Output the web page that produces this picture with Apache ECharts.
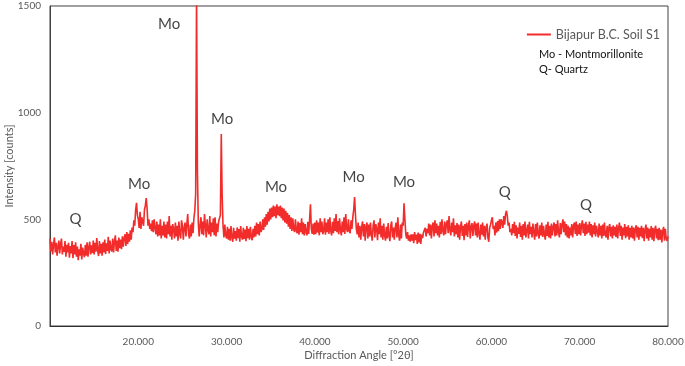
<!DOCTYPE html>
<html>
<head>
<meta charset="utf-8">
<script src="https://cdn.jsdelivr.net/npm/echarts@6/dist/echarts.min.js"></script>
<style>html,body{margin:0;padding:0;background:#fff}#c{width:685px;height:366px}</style>
</head>
<body>
<div id="c"></div>
<script>
// Sampling grid of diffraction angles (°2θ)
const angleStart = 10.0;
const angleStep = 0.1;
// Intensity [counts], one row per degree (x.0 .. x.9), last value at 80.0
const intensity = [
410,350,395,335,380,415,345,390,330,372,
400,340,385,410,335,372,348,398,325,380,
345,390,320,375,340,398,318,380,335,392,
325,372,308,360,330,385,312,368,340,322,
380,330,392,325,370,395,335,378,342,400,
335,390,348,412,355,328,398,340,385,330,
392,345,405,338,388,352,418,340,400,360,
350,410,345,395,425,352,400,348,415,365,
405,360,420,372,412,430,375,440,385,432,
395,448,405,462,440,495,470,545,577,520,
500,460,535,455,510,490,470,545,565,600,
550,470,500,455,480,445,495,440,500,460,
430,490,420,475,425,500,410,470,425,490,
415,475,410,490,430,515,420,470,405,478,
455,410,485,420,470,400,490,430,410,495,
470,405,460,485,420,478,525,430,410,475,
420,485,435,505,540,620,1560,720,480,420,
475,510,430,490,425,525,470,415,500,450,
430,515,420,485,440,505,425,510,420,480,
440,490,505,520,900,610,470,415,475,425,
410,465,405,455,400,468,415,395,460,410,
445,400,462,412,455,395,468,418,405,460,
408,452,398,468,412,455,405,465,418,402,
455,415,470,420,485,430,478,425,490,440,
455,500,450,510,465,525,475,535,490,550,
500,555,510,565,515,560,505,570,520,560,
515,565,505,555,495,550,485,540,480,530,
465,520,455,510,445,505,455,440,500,448,
435,490,428,482,440,505,430,485,425,478,
440,425,488,432,495,570,455,432,480,428,
485,430,495,438,485,425,505,440,490,430,
445,505,428,485,440,500,432,510,445,425,
488,435,505,445,525,440,492,430,505,448,
425,490,440,510,432,525,455,440,500,445,
435,495,455,510,545,605,520,455,430,485,
415,470,405,462,490,420,478,400,465,485,
410,475,420,485,430,400,470,495,415,478,
455,402,485,430,505,415,470,405,480,425,
400,465,410,482,422,398,470,490,415,462,
405,460,485,415,510,425,400,475,410,485,
470,575,500,430,410,440,400,425,395,430,
400,430,388,440,402,428,385,438,392,432,
385,428,412,438,430,460,420,455,435,480,
425,475,410,468,485,420,495,435,480,425,
470,415,488,432,500,445,425,490,430,478,
495,435,515,450,425,485,440,505,420,472,
430,482,415,475,405,465,490,422,470,402,
478,425,485,418,470,495,410,465,482,422,
470,490,425,480,415,485,432,405,475,428,
485,420,470,405,462,480,415,395,460,475,
495,510,455,470,425,485,438,492,445,500,
455,500,485,460,515,475,525,540,515,470,
485,440,455,425,478,435,488,422,472,410,
462,432,485,418,470,405,478,425,490,415,
422,475,410,488,430,465,415,480,440,405,
478,420,485,432,410,472,425,485,418,470,
430,405,475,422,488,415,470,410,480,425,
465,485,420,478,425,495,440,415,482,430,
475,500,440,490,425,478,415,470,410,462,
425,478,415,470,485,432,490,422,475,430,
482,425,470,495,435,480,422,488,430,475,
438,490,425,478,415,472,430,485,420,470,
462,415,480,425,470,410,475,422,485,428,
415,470,405,462,478,420,465,410,472,425,
465,418,475,410,460,485,422,470,405,462,
425,478,412,465,420,472,405,460,415,470,
410,462,400,455,472,415,465,405,460,420,
470,412,460,398,452,475,410,462,400,455,
415,468,405,460,398,452,470,410,455,402,
460,405,452,392,445,465,400,455,410,398,
420
];
// Phase annotations (label, angle, intensity position)
const annoLabels = ['Mo','Mo','Mo','Mo','Mo','Mo','Q','Q','Q'];
const annoX = [23.5, 29.5, 20.1, 35.6, 44.4, 50.1, 12.9, 61.5, 70.7];
const annoY = [1416, 970, 666, 652, 698, 675, 502, 628, 567];
const xTicks = [20, 30, 40, 50, 60, 70, 80];
const yTicks = [0, 500, 1000, 1500];
const seriesName = 'Bijapur B.C. Soil S1';
const noteLines = ['Mo - Montmorillonite', 'Q- Quartz'];

const lineData = intensity.map((v, i) => [+(angleStart + i * angleStep).toFixed(2), v]);
const annoData = annoLabels.map((t, i) => ({ value: [annoX[i], annoY[i]], name: t }));

const font = 'Lato, "Open Sans", sans-serif';
const chart = echarts.init(document.getElementById('c'), null, { renderer: 'canvas' });
chart.setOption({
  animation: false,
  textStyle: { fontFamily: font },
  grid: { left: 50, right: 17, top: 6, bottom: 40, containLabel: false, outerBoundsMode: 'none',
    show: true, borderColor: '#404040', borderWidth: 1 },
  legend: {
    data: [{ name: seriesName, icon: 'path://M0,0L24,0L24,2L0,2Z' }],
    right: 25, top: 28, itemWidth: 24, itemHeight: 2, itemGap: 4, padding: 0,
    textStyle: { fontFamily: font, fontSize: 12.5, color: '#595959' }
  },
  xAxis: {
    type: 'value', min: 10, max: 80, interval: 10,
    name: 'Diffraction Angle [°2θ]', nameLocation: 'middle', nameGap: 24, nameMoveOverlap: false,
    nameTextStyle: { fontFamily: font, fontSize: 11, color: '#595959' },
    axisLine: { show: true, lineStyle: { color: '#303030', width: 1 } },
    axisTick: { show: false },
    splitLine: { show: false },
    axisLabel: {
      fontFamily: font, fontSize: 10, color: '#595959', margin: 11,
      customValues: xTicks,
      formatter: v => (xTicks.indexOf(Math.round(v)) >= 0 ? Number(v).toFixed(3) : '')
    }
  },
  yAxis: {
    type: 'value', min: 0, max: 1500, interval: 500,
    name: 'Intensity [counts]', nameLocation: 'middle', nameGap: 35, nameMoveOverlap: false,
    nameTextStyle: { fontFamily: font, fontSize: 11, color: '#595959' },
    axisLine: { show: true, lineStyle: { color: '#404040', width: 1 } },
    axisTick: { show: false },
    splitLine: { show: false },
    axisLabel: { fontFamily: font, fontSize: 10, color: '#595959', margin: 9,
      formatter: v => (yTicks.indexOf(v) >= 0 ? String(v) : '') }
  },
  series: [
    {
      name: seriesName, type: 'line', data: lineData, showSymbol: false, symbol: 'none',
      sampling: null, clip: true,
      lineStyle: { color: '#f22b2b', width: 1.6 }, itemStyle: { color: '#f22b2b' }
    },
    {
      name: 'anno', type: 'scatter', data: annoData, symbolSize: 0, silent: true,
      label: { show: true, position: 'inside', formatter: p => p.name,
        fontFamily: font, fontSize: 15, color: '#111' }
    }
  ],
  graphic: [
    { type: 'text', left: 539, top: 49, style: { text: noteLines[0], fontFamily: font, fontSize: 11, fill: '#111' } },
    { type: 'text', left: 539, top: 64, style: { text: noteLines[1], fontFamily: font, fontSize: 11, fill: '#111' } }
  ]
});
</script>
</body>
</html>
